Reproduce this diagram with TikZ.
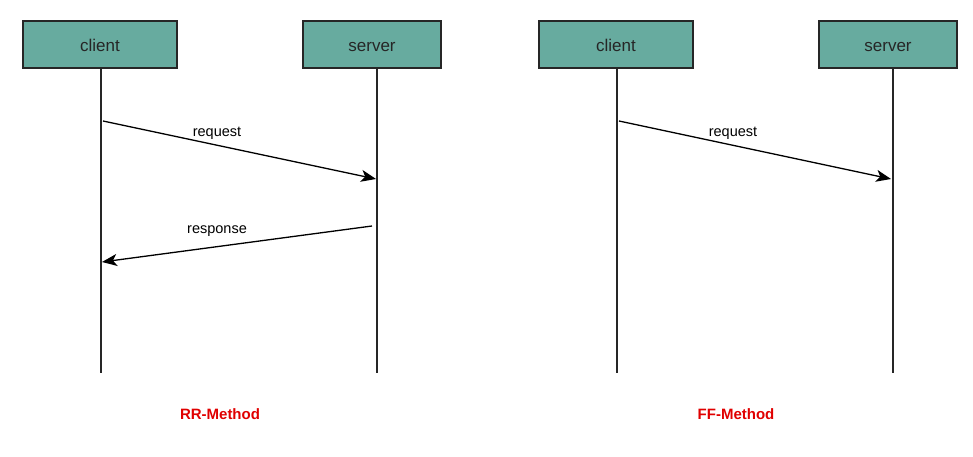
\documentclass[tikz,border=0pt]{standalone}
\usepackage{fontspec}
\setmainfont{Liberation Sans}
\usetikzlibrary{arrows.meta}
\definecolor{boxfill}{HTML}{67AB9F}
\definecolor{methodred}{HTML}{E00000}
\tikzset{
  actor/.style={draw=black!85, line width=1.2pt, fill=boxfill, minimum width=154pt, minimum height=47pt, inner sep=0pt, font=\fontsize{17}{20}\selectfont, text=black!85, text height=15pt, text depth=0pt},
  actorsm/.style={actor, minimum width=138pt},
  lifeline/.style={draw=black!85, line width=1.2pt},
  msg/.style={draw=black, line width=1.3pt, -{Stealth[length=15pt,width=12pt,inset=4pt]}},
  lbl/.style={font=\fontsize{14.5}{17}\selectfont, inner sep=0pt, text height=10.5pt, text depth=3pt},
  method/.style={font=\bfseries\fontsize{15}{18}\selectfont, text=methodred, inner sep=0pt}
}
\begin{document}
\begin{tikzpicture}[x=1pt,y=-1pt]
\useasboundingbox (0,0) rectangle (973,457);
% left pair
\node[actor] (c1) at (100,44.5) {client};
\node[actorsm] (s1) at (372,44.5) {server};
\coordinate (c1end) at (101,373);
\coordinate (s1end) at (377,373);
\draw[lifeline] (c1.south -| c1end) -- (c1end);
\draw[lifeline] (s1.south -| s1end) -- (s1end);
\coordinate (r1a) at (103,121);
\coordinate (r1b) at (376,179);
\draw[msg] (r1a) -- (r1b);
\node[lbl] (q1) at (217,133) {request};
\coordinate (p1a) at (372,226);
\coordinate (p1b) at (102,262);
\draw[msg] (p1a) -- (p1b);
\node[lbl] (p1) at (217,230) {response};
\node[method] (m1) at (220,414) {RR-Method};
% right pair
\node[actor] (c2) at (616,44.5) {client};
\node[actorsm] (s2) at (888,44.5) {server};
\coordinate (c2end) at (617,373);
\coordinate (s2end) at (893,373);
\draw[lifeline] (c2.south -| c2end) -- (c2end);
\draw[lifeline] (s2.south -| s2end) -- (s2end);
\coordinate (r2a) at (619,121);
\coordinate (r2b) at (891,179);
\draw[msg] (r2a) -- (r2b);
\node[lbl] (q2) at (733,133) {request};
\node[method] (m2) at (736,414) {FF-Method};
\end{tikzpicture}
\end{document}
